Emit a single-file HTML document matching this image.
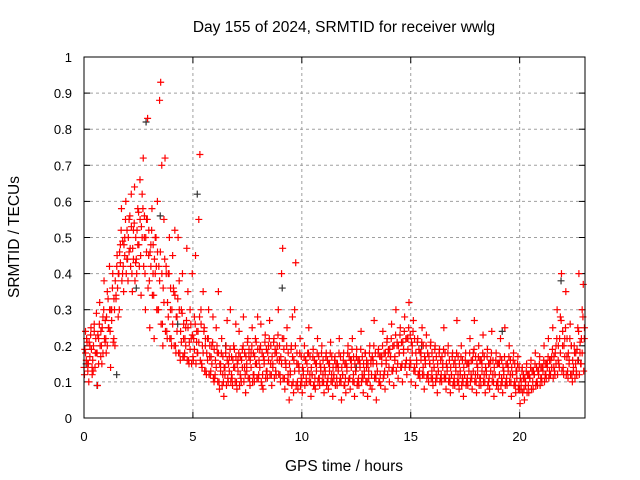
<!DOCTYPE html>
<html><head><meta charset="utf-8"><style>
html,body{margin:0;padding:0;background:#fff;}
svg{display:block;font-family:"Liberation Sans",sans-serif;}
</style></head><body>
<svg id="chart" width="640" height="480" xmlns="http://www.w3.org/2000/svg">
<rect width="640" height="480" fill="#fff"/>
<text x="344" y="32" font-size="15.5" text-anchor="middle">Day 155 of 2024, SRMTID for receiver wwlg</text>
<text transform="translate(19,237) rotate(-90)" font-size="15.5" text-anchor="middle">SRMTID / TECUs</text>
<text x="344" y="471" font-size="15.5" text-anchor="middle">GPS time / hours</text>
<g id="grid"></g>
<g id="ticks"></g>
<g id="black"></g>
<g id="red"></g>
<rect x="84" y="57" width="501" height="361" fill="none" stroke="#000" stroke-width="1"/>
</svg>
<script>
const xTicks = [0, 5, 10, 15, 20];
const yTicks = [0, 0.1, 0.2, 0.3, 0.4, 0.5, 0.6, 0.7, 0.8, 0.9, 1];
const yTickLabels = ["0","0.1","0.2","0.3","0.4","0.5","0.6","0.7","0.8","0.9","1"];
const binStart = 0, binStep = 0.2;
const redValues = [
[.12,.18,.22,.15],[.10,.20,.25,.14],[.13,.24,.18,.29],[.09,.22,.32,.17],[.15,.28,.38,.21],
[.18,.35,.25,.42],[.14,.30,.40,.22],[.20,.33,.45,.28],[.30,.48,.58,.40],[.35,.50,.60,.44],
[.38,.55,.47,.62],[.35,.52,.64,.43],[.40,.58,.48,.66],[.34,.62,.72,.50],[.30,.55,.83,.45],
[.25,.48,.58,.40],[.22,.50,.42,.60],[.30,.88,.93,.70],[.20,.55,.72,.42],[.22,.40,.50,.30],
[.20,.45,.35,.52],[.18,.28,.50,.38],[.16,.30,.40,.22],[.18,.25,.47,.35],[.15,.30,.22,.40],
[.16,.28,.45,.21],[.18,.55,.73,.30],[.14,.35,.25,.20],[.12,.22,.30,.17],[.13,.20,.28,.10],
[.12,.25,.18,.35],[.08,.15,.22,.12],[.06,.14,.20,.27],[.10,.17,.30,.12],[.09,.20,.14,.26],
[.08,.16,.24,.12],[.10,.19,.28,.14],[.07,.13,.22,.17],[.09,.18,.25,.12],[.10,.22,.15,.28],
[.12,.19,.26,.09],[.08,.16,.23,.13],[.11,.20,.27,.15],[.09,.14,.22,.18],[.12,.20,.30,.16],
[.10,.40,.47,.22],[.08,.15,.25,.12],[.05,.12,.20,.28],[.07,.30,.43,.15],[.08,.14,.22,.11],
[.07,.13,.20,.16],[.10,.18,.25,.12],[.06,.12,.19,.09],[.08,.15,.22,.11],[.09,.14,.20,.12],
[.07,.13,.18,.10],[.08,.15,.21,.12],[.06,.11,.17,.14],[.09,.14,.22,.11],[.05,.12,.18,.09],
[.07,.14,.20,.11],[.08,.16,.22,.12],[.06,.13,.19,.10],[.09,.15,.24,.12],[.07,.12,.18,.14],
[.06,.11,.20,.15],[.08,.16,.27,.12],[.05,.13,.19,.10],[.09,.17,.24,.12],[.08,.15,.22,.18],
[.10,.17,.26,.13],[.09,.16,.30,.20],[.11,.18,.25,.14],[.10,.19,.28,.15],[.12,.22,.32,.16],
[.10,.20,.27,.14],[.09,.15,.22,.12],[.11,.18,.25,.14],[.08,.16,.23,.12],[.10,.15,.21,.13],
[.09,.14,.20,.12],[.07,.13,.19,.11],[.10,.15,.25,.12],[.08,.14,.20,.11],[.07,.12,.18,.10],
[.09,.14,.27,.12],[.08,.13,.20,.11],[.06,.12,.18,.10],[.09,.15,.22,.12],[.08,.18,.27,.12],
[.07,.14,.20,.11],[.09,.15,.23,.12],[.07,.13,.19,.10],[.08,.16,.24,.12],[.06,.12,.18,.10],
[.08,.15,.22,.11],[.07,.13,.25,.10],[.09,.14,.20,.12],[.06,.12,.18,.10],[.07,.13,.17,.09],
[.04,.08,.14,.11],[.05,.09,.15,.12],[.07,.11,.16,.13],[.08,.12,.18,.10],[.09,.13,.17,.11],
[.10,.14,.20,.12],[.11,.15,.22,.13],[.12,.17,.25,.14],[.12,.20,.30,.16],[.14,.28,.40,.20],
[.12,.22,.35,.17],[.11,.16,.26,.20],[.10,.13,.18,.15],[.12,.25,.40,.18],[.15,.30,.37,.22]
];
const redCore = [
[.14,.19,.24,.16,.21,.13],[.15,.21,.17,.23,.19,.12],[.16,.20,.26,.14,.22,.18],[.18,.23,.15,.26,.20,.24],[.20,.25,.18,.30,.22,.27],
[.22,.28,.20,.33,.25,.30],[.24,.30,.27,.36,.21,.33],[.30,.38,.34,.42,.36,.40],[.40,.46,.43,.52,.38,.49],[.42,.48,.45,.55,.40,.52],
[.44,.50,.46,.56,.42,.53],[.40,.47,.44,.54,.38,.50],[.44,.52,.48,.57,.42,.55],[.45,.53,.50,.58,.42,.56],[.40,.50,.46,.55,.36,.52],
[.38,.46,.42,.52,.34,.48],[.34,.44,.40,.50,.30,.46],[.30,.42,.38,.46,.26,.40],[.26,.36,.32,.44,.24,.40],[.24,.32,.28,.40,.22,.36],
[.22,.30,.26,.36,.20,.34],[.20,.28,.24,.33,.18,.30],[.18,.24,.21,.29,.17,.26],[.17,.22,.20,.27,.16,.25],[.16,.21,.19,.26,.15,.23],
[.17,.22,.19,.26,.15,.24],[.18,.24,.21,.28,.16,.26],[.15,.20,.18,.24,.13,.22],[.13,.18,.16,.22,.12,.20],[.12,.17,.15,.21,.11,.19],
[.11,.16,.14,.20,.10,.18],[.10,.15,.13,.18,.09,.17],[.10,.14,.12,.18,.09,.16],[.11,.15,.13,.19,.10,.17],[.11,.16,.14,.19,.10,.17],
[.10,.15,.13,.18,.09,.17],[.11,.16,.14,.20,.10,.18],[.12,.17,.15,.21,.11,.19],[.11,.16,.14,.20,.10,.18],[.12,.17,.15,.21,.11,.19],
[.11,.16,.14,.20,.10,.18],[.12,.17,.15,.21,.11,.19],[.13,.18,.16,.22,.12,.20],[.12,.17,.15,.21,.11,.19],[.13,.18,.16,.23,.12,.20],
[.12,.17,.15,.22,.11,.19],[.11,.16,.14,.20,.10,.18],[.10,.15,.13,.19,.09,.17],[.10,.16,.13,.20,.09,.18],[.10,.15,.13,.18,.09,.17],
[.10,.14,.12,.17,.09,.16],[.11,.15,.13,.18,.10,.17],[.10,.14,.12,.17,.09,.16],[.11,.15,.13,.18,.10,.17],[.11,.15,.13,.18,.10,.16],
[.10,.14,.12,.17,.09,.16],[.11,.15,.13,.18,.10,.17],[.10,.14,.12,.16,.09,.15],[.11,.15,.13,.18,.10,.17],[.10,.14,.12,.16,.09,.15],
[.11,.15,.13,.18,.10,.17],[.11,.16,.14,.19,.10,.17],[.10,.15,.13,.17,.09,.16],[.11,.16,.14,.19,.10,.17],[.11,.15,.13,.18,.10,.16],
[.10,.15,.13,.18,.09,.16],[.12,.17,.15,.20,.11,.18],[.11,.15,.13,.18,.10,.17],[.12,.17,.15,.20,.11,.18],[.13,.18,.16,.21,.12,.19],
[.14,.19,.17,.22,.13,.20],[.14,.20,.17,.23,.13,.21],[.15,.20,.18,.23,.14,.21],[.15,.21,.18,.24,.14,.22],[.16,.22,.19,.25,.14,.23],
[.15,.21,.18,.24,.13,.22],[.13,.18,.16,.21,.12,.19],[.13,.18,.16,.21,.12,.20],[.12,.17,.15,.20,.11,.18],[.12,.17,.15,.20,.11,.18],
[.11,.16,.14,.19,.10,.17],[.11,.15,.13,.18,.10,.16],[.12,.17,.14,.19,.11,.18],[.11,.15,.13,.18,.10,.16],[.10,.14,.12,.17,.09,.15],
[.11,.16,.13,.18,.10,.17],[.10,.15,.12,.17,.09,.16],[.10,.14,.12,.16,.09,.15],[.11,.15,.13,.18,.10,.16],[.11,.16,.13,.19,.10,.17],
[.10,.15,.12,.17,.09,.16],[.11,.16,.13,.18,.10,.17],[.10,.14,.12,.17,.09,.15],[.11,.15,.13,.18,.10,.16],[.10,.14,.12,.16,.09,.15],
[.10,.15,.12,.17,.09,.16],[.10,.14,.12,.17,.09,.15],[.11,.15,.13,.17,.10,.16],[.10,.14,.12,.16,.09,.15],[.09,.13,.11,.15,.08,.14],
[.08,.11,.10,.13,.07,.12],[.08,.11,.10,.13,.07,.12],[.09,.12,.11,.14,.08,.13],[.10,.13,.12,.15,.09,.14],[.10,.13,.12,.15,.09,.14],
[.11,.14,.13,.16,.10,.15],[.12,.15,.14,.17,.11,.16],[.12,.16,.14,.19,.11,.17],[.13,.18,.15,.22,.12,.20],[.15,.22,.18,.27,.13,.24],
[.14,.20,.17,.25,.12,.22],[.13,.18,.15,.22,.12,.20],[.12,.16,.14,.20,.11,.18],[.13,.19,.16,.24,.12,.21],[.15,.22,.18,.28,.13,.25]
];
const blackTimes = [0.1,0.6,1.5,2.4,2.85,3.5,4.3,5.2,6.5,9.1,12.5,15.5,19.2,21.9,22.7];
const blackValues = [0.15,0.09,0.12,0.36,0.82,0.56,0.26,0.62,0.2,0.36,0.14,0.2,0.24,0.38,0.16];

const X0=84, X1=585, Y0=418, Y1=57, XMAX=23, YMAX=1;
const sx = v => X0 + (X1-X0)*v/XMAX;
const sy = v => Y0 - (Y0-Y1)*v/YMAX;
const NS="http://www.w3.org/2000/svg";
function mk(tag, attrs, parent){const e=document.createElementNS(NS,tag);for(const k in attrs)e.setAttribute(k,attrs[k]);parent.appendChild(e);return e;}
const grid=document.getElementById('grid'), ticks=document.getElementById('ticks');
xTicks.forEach(t=>{
  const x=sx(t);
  if(t>0){const l=mk('line',{x1:x,x2:x,y1:Y0,y2:Y1,stroke:'#a0a0a0','stroke-dasharray':'3,3'},grid);
  
  }
  mk('line',{x1:x,x2:x,y1:Y0,y2:Y0-6,stroke:'#000'},ticks);
  mk('line',{x1:x,x2:x,y1:Y1,y2:Y1+6,stroke:'#000'},ticks);
  const tx=mk('text',{x:x,y:Y0+23,'font-size':13,'text-anchor':'middle'},ticks);
  tx.textContent=String(t);
  
  
});
yTicks.forEach((t,i)=>{
  const y=sy(t);
  if(t>0&&t<1){const l=mk('line',{x1:X0,x2:X1,y1:y,y2:y,stroke:'#a0a0a0','stroke-dasharray':'3,3'},grid);
  
  }
  mk('line',{x1:X0,x2:X0+6,y1:y,y2:y,stroke:'#000'},ticks);
  mk('line',{x1:X1,x2:X1-6,y1:y,y2:y,stroke:'#000'},ticks);
  const tx=mk('text',{x:X0-12,y:y+5,'font-size':13,'text-anchor':'end'},ticks);
  tx.textContent=yTickLabels[i];
  
  
});
function plus(g,t,v,color){
  const x=sx(t), y=sy(v);
  const p=mk('path',{d:`M${x-3.5},${y}H${x+3.5}M${x},${y-3.5}V${y+3.5}`,stroke:color,'stroke-width':1.2,fill:'none'},g);
  
  
}
const bg=document.getElementById('black'), rg=document.getElementById('red');
blackTimes.forEach((t,i)=>plus(bg,t,blackValues[i],'#333'));
const offsets=[0.02,0.07,0.12,0.17];
const coreOffsets=[0.0,0.035,0.07,0.105,0.14,0.175];
redValues.forEach((row,i)=>{
  const t0=binStart+i*binStep;
  row.forEach((v,j)=>plus(rg,t0+offsets[j],v,'#ff0000'));
});
redCore.forEach((row,i)=>{
  const t0=binStart+i*binStep;
  row.forEach((v,j)=>plus(rg,t0+coreOffsets[j],v,'#ff0000'));
});
</script>
</body></html>
